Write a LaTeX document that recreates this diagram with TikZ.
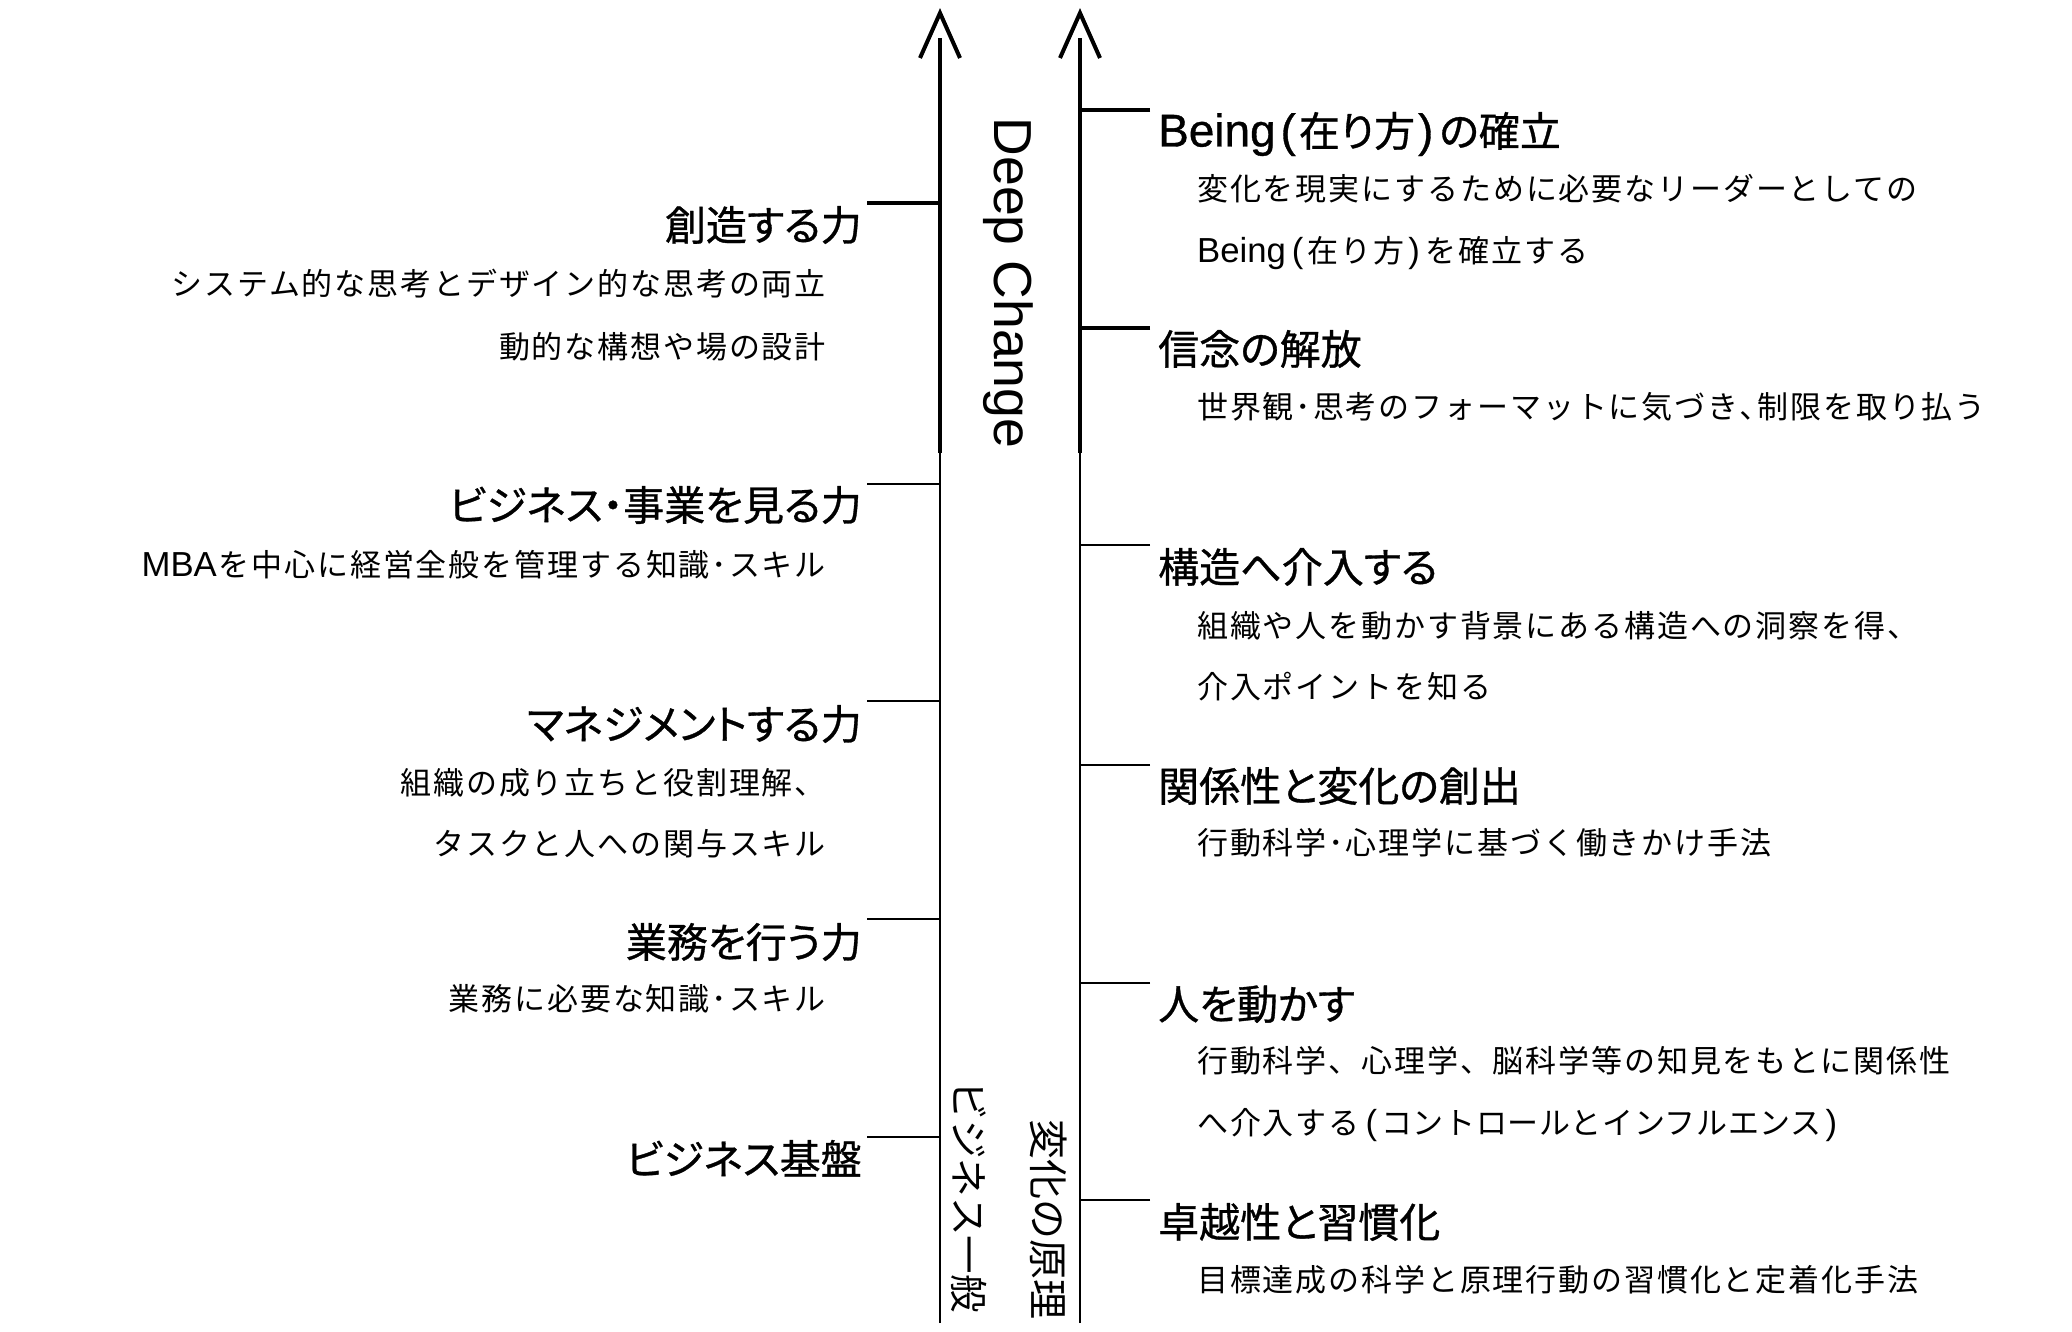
\documentclass[tikz,border=0pt]{standalone}
\usepackage{fontspec}
\setmainfont{Noto Sans CJK JP}
\newfontfamily\jptitle[FakeBold=0.8,RawFeature={+palt}]{Noto Sans CJK JP}
\newfontfamily\jpbody[LetterSpace=6]{Noto Sans CJK JP}
\newfontfamily\jpbodytight[LetterSpace=2]{Noto Sans CJK JP}
\newfontfamily\jpaxis{Noto Sans CJK JP}
\newfontfamily\lat[Scale=1.12]{Liberation Sans}
\newfontfamily\latdc[Scale=1.05]{Liberation Sans}
\newfontfamily\lattl[Scale=1.12,FakeBold=0.8]{Liberation Sans}
\newcommand{\lp}{\kern6pt{\lat(}\kern4pt}
\newcommand{\rp}{\kern4pt{\lat)}\kern6pt}
\begin{document}
\begin{tikzpicture}[x=1pt,y=-1pt,
  axisthick/.style={line width=4pt},
  axisthin/.style={line width=2pt},
  headline/.style={line width=4pt,line join=miter},
  tickthick/.style={line width=4pt},
  tickthin/.style={line width=2pt},
  ttl/.style={inner sep=0pt,text height=36pt,text depth=5pt,font=\jptitle\fontsize{41}{47}\selectfont},
  bdy/.style={inner sep=0pt,text height=27.2pt,text depth=3.8pt,font=\jpbody\fontsize{31}{36}\selectfont},
  ttlL/.style={ttl,anchor=east},
  ttlR/.style={ttl,anchor=west},
  bdyL/.style={bdy,anchor=east},
  bdyR/.style={bdy,anchor=west},
  vlab/.style={inner sep=0pt,rotate=-90,anchor=center}
]
\fill[white] (0,0) rectangle (2072,1332);
\useasboundingbox (0,0) rectangle (2072,1332);

% axes
\coordinate (Ltip) at (940,13);
\coordinate (Ltop) at (940,38);
\coordinate (Lmid) at (940,453);
\coordinate (Lbot) at (940,1323);
\coordinate (Rtip) at (1080,13);
\coordinate (Rtop) at (1080,38);
\coordinate (Rmid) at (1080,453);
\coordinate (Rbot) at (1080,1323);

\draw[axisthick] (Lmid) -- (Ltop);
\draw[axisthin] (Lbot) -- (Lmid);
\draw[headline] (Ltip) ++(-20,45) -- (Ltip) -- ++(20,45);
\draw[axisthick] (Rmid) -- (Rtop);
\draw[axisthin] (Rbot) -- (Rmid);
\draw[headline] (Rtip) ++(-20,45) -- (Rtip) -- ++(20,45);

% axis labels
\node[vlab,font=\latdc\fontsize{51}{54}\selectfont] (deep) at (1008,283) {Deep Change};
\node[vlab,text height=34pt,text depth=5pt,font=\jpaxis\fontsize{38.5}{42}\selectfont] (gen) at (969,1197) {ビジネス一般};
\node[vlab,text height=35pt,text depth=5pt,font=\jpaxis\fontsize{40}{44}\selectfont] (prin) at (1048,1219) {変化の原理};

% left tick ends
\coordinate (kL1) at (867,203);
\coordinate (kL2) at (867,484);
\coordinate (kL3) at (867,701);
\coordinate (kL4) at (867,919);
\coordinate (kL5) at (867,1137);
\draw[tickthick] (kL1) -- (kL1 -| Lmid);
\draw[tickthin] (kL2) -- (kL2 -| Lmid);
\draw[tickthin] (kL3) -- (kL3 -| Lmid);
\draw[tickthin] (kL4) -- (kL4 -| Lmid);
\draw[tickthin] (kL5) -- (kL5 -| Lmid);

% right tick ends
\coordinate (kR1) at (1150,110);
\coordinate (kR2) at (1150,328);
\coordinate (kR3) at (1150,545);
\coordinate (kR4) at (1150,765);
\coordinate (kR5) at (1150,983);
\coordinate (kR6) at (1150,1200);
\draw[tickthick] (kR1) -- (kR1 -| Rmid);
\draw[tickthick] (kR2) -- (kR2 -| Rmid);
\draw[tickthin] (kR3) -- (kR3 -| Rmid);
\draw[tickthin] (kR4) -- (kR4 -| Rmid);
\draw[tickthin] (kR5) -- (kR5 -| Rmid);
\draw[tickthin] (kR6) -- (kR6 -| Rmid);

% left texts
\node[ttlL] (t1) at (862,225) {創造する力};
\node[bdyL] (t1a) at (826,284) {システム的な思考とデザイン的な思考の両立};
\node[bdyL] (t1b) at (826,347) {動的な構想や場の設計};
\node[ttlL] (t2) at (862,505) {ビジネス・事業を見る力};
\node[bdyL] (t2a) at (826,565) {{\lat MBA}\kern2pt を中心に経営全般を管理する知識･スキル};
\node[ttlL] (t3) at (862,724) {マネジメントする力};
\node[bdyL] (t3a) at (826,783) {組織の成り立ちと役割理解、};
\node[bdyL] (t3b) at (826,844) {タスクと人への関与スキル};
\node[ttlL] (t4) at (862,942) {業務を行う力};
\node[bdyL] (t4a) at (826,999) {業務に必要な知識･スキル};
\node[ttlL] (t5) at (862,1159) {ビジネス基盤};

% right texts
\node[ttlR] (r1) at (1158,131) {{\lattl Being\kern5pt(}\kern3pt在り方\kern3pt{\lattl)}\kern6pt の確立};
\node[bdyR] (r1a) at (1197,189) {変化を現実にするために必要なリーダーとしての};
\node[bdyR] (r1b) at (1197,251) {{\lat Being}\lp 在り方\rp を確立する};
\node[ttlR] (r2) at (1158,349) {信念の解放};
\node[bdyR] (r2a) at (1197,407) {世界観･思考のフォーマットに気づき､制限を取り払う};
\node[ttlR] (r3) at (1158,567) {構造へ介入する};
\node[bdyR] (r3a) at (1197,626) {組織や人を動かす背景にある構造への洞察を得、};
\node[bdyR] (r3b) at (1197,687) {介入ポイントを知る};
\node[ttlR] (r4) at (1158,786) {関係性と変化の創出};
\node[bdyR] (r4a) at (1197,843) {行動科学･心理学に基づく働きかけ手法};
\node[ttlR] (r5) at (1158,1004) {人を動かす};
\node[bdyR] (r5a) at (1197,1061) {行動科学、心理学、脳科学等の知見をもとに関係性};
\node[bdyR] (r5b) at (1197,1123) {へ介入する\lp{\jpbodytight コントロールとインフルエンス}\rp};
\node[ttlR] (r6) at (1158,1222) {卓越性と習慣化};
\node[bdyR] (r6a) at (1197,1280) {目標達成の科学と原理行動の習慣化と定着化手法};
\end{tikzpicture}
\end{document}
